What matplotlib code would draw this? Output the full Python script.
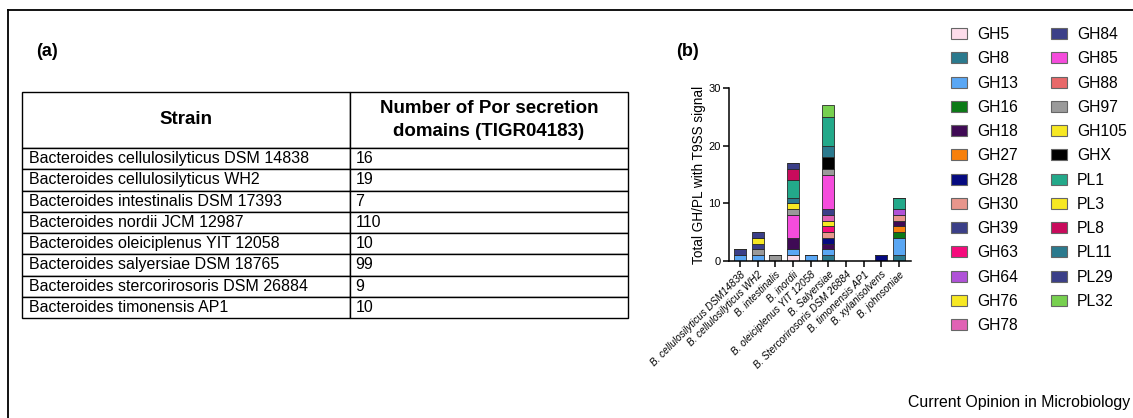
import matplotlib
matplotlib.use("Agg")
import matplotlib.pyplot as plt
from matplotlib.lines import Line2D
from matplotlib.patches import Patch
import numpy as np

plt.rcParams['font.family'] = ['Liberation Sans', 'DejaVu Sans']

# ---------------- data: table (a) ----------------
table_strains = [
    "Bacteroides cellulosilyticus DSM 14838",
    "Bacteroides cellulosilyticus WH2",
    "Bacteroides intestinalis DSM 17393",
    "Bacteroides nordii JCM 12987",
    "Bacteroides oleiciplenus YIT 12058",
    "Bacteroides salyersiae DSM 18765",
    "Bacteroides stercorirosoris DSM 26884",
    "Bacteroides timonensis AP1",
]
table_counts = [16, 19, 7, 110, 10, 99, 9, 10]
table_headers = ["Strain", "Number of Por secretion\ndomains (TIGR04183)"]

# ---------------- data: bar chart (b) ----------------
categories = [
    "B. cellulosilyticus DSM14838", "B. cellulosilyticus WH2", "B. intestinalis",
    "B. inordii", "B. oleiciplenus YIT 12058", "B. Salyersiae",
    "B. Stercorirosoris DSM 26884", "B. timonensis AP1", "B. xylanisolvens",
    "B. johnsoniae",
]
GH5   = [0, 0, 0, 1, 0, 0, 0, 0, 0, 0]
GH8   = [0, 0, 0, 0, 0, 1, 0, 0, 0, 1]
GH13  = [1, 1, 0, 1, 1, 1, 0, 0, 0, 3]
GH16  = [0, 0, 0, 0, 0, 0, 0, 0, 0, 1]
GH18  = [0, 0, 0, 2, 0, 1, 0, 0, 0, 1]
GH27  = [0, 0, 0, 0, 0, 0, 0, 0, 0, 1]
GH28  = [0, 0, 0, 0, 0, 1, 0, 0, 1, 0]
GH30  = [0, 0, 0, 0, 0, 1, 0, 0, 0, 1]
GH39  = [0, 0, 0, 0, 0, 1, 0, 0, 0, 0]
GH63  = [0, 0, 0, 0, 0, 1, 0, 0, 0, 0]
GH64  = [0, 0, 0, 0, 0, 0, 0, 0, 0, 1]
GH76  = [0, 0, 0, 0, 0, 1, 0, 0, 0, 0]
GH78  = [0, 0, 0, 0, 0, 1, 0, 0, 0, 0]
GH84  = [1, 1, 0, 0, 0, 0, 0, 0, 0, 0]
GH85  = [0, 0, 0, 4, 0, 6, 0, 0, 0, 0]
GH88  = [0, 0, 0, 0, 0, 0, 0, 0, 0, 0]
GH97  = [0, 1, 1, 1, 0, 1, 0, 0, 0, 0]
GH105 = [0, 1, 0, 1, 0, 0, 0, 0, 0, 0]
GHX   = [0, 0, 0, 0, 0, 2, 0, 0, 0, 0]
PL1   = [0, 0, 0, 3, 0, 5, 0, 0, 0, 2]
PL3   = [0, 0, 0, 0, 0, 0, 0, 0, 0, 0]
PL8   = [0, 0, 0, 2, 0, 0, 0, 0, 0, 0]
PL11  = [0, 0, 0, 1, 0, 2, 0, 0, 0, 0]
PL29  = [0, 1, 0, 1, 0, 0, 0, 0, 0, 0]
PL32  = [0, 0, 0, 0, 0, 2, 0, 0, 0, 0]

y_ticks = [0, 10, 20, 30]

series = {
    "GH5": GH5, "GH8": GH8, "GH13": GH13, "GH16": GH16, "GH18": GH18,
    "GH27": GH27, "GH28": GH28, "GH30": GH30, "GH39": GH39, "GH63": GH63,
    "GH64": GH64, "GH76": GH76, "GH78": GH78, "GH84": GH84, "GH85": GH85,
    "GH88": GH88, "GH97": GH97, "GH105": GH105, "GHX": GHX, "PL1": PL1,
    "PL3": PL3, "PL8": PL8, "PL11": PL11, "PL29": PL29, "PL32": PL32,
}
colors = {
    "GH5": "#fcdcea", "GH8": "#2b7a8e", "GH13": "#5aa7f4", "GH16": "#0b7a16",
    "GH18": "#3f0a55", "GH27": "#f7800c", "GH28": "#050a80", "GH30": "#e8968c",
    "GH39": "#3b3f88", "GH63": "#f50a7c", "GH64": "#b052d8", "GH76": "#f7e823",
    "GH78": "#e062b4", "GH84": "#3b3f88", "GH85": "#f54cdc", "GH88": "#e8696a",
    "GH97": "#9a9a9a", "GH105": "#f7e823", "GHX": "#000000", "PL1": "#23a98a",
    "PL3": "#f7e823", "PL8": "#c90b5c", "PL11": "#2b7a8e", "PL29": "#3b3f88",
    "PL32": "#77d04f",
}
legend_order = ["GH5", "GH8", "GH13", "GH16", "GH18", "GH27", "GH28", "GH30",
                "GH39", "GH63", "GH64", "GH76", "GH78",
                "GH84", "GH85", "GH88", "GH97", "GH105", "GHX", "PL1", "PL3",
                "PL8", "PL11", "PL29", "PL32"]
stack_order = ["GH5", "GH8", "GH13", "GH16", "GH27", "GH18", "GH28", "GH30",
               "GH63", "GH64", "GH76", "GH78", "GH39", "GH85", "GH88", "GH97",
               "GH84", "GH105", "GHX", "PL11", "PL1", "PL3", "PL8", "PL29", "PL32"]

# ---------------- figure ----------------
W, H = 1133, 418
fig = plt.figure(figsize=(W / 100, H / 100), dpi=100)

def fx(x):
    return x / W

def fy(y):
    return 1 - y / H

# frame
fig.add_artist(Line2D([fx(8), fx(8)], [fy(10), 0], color="black", lw=1.3))
fig.add_artist(Line2D([fx(8), 1], [fy(10), fy(10)], color="black", lw=1.3))

# panel labels
fig.text(fx(36), fy(52), "(a)", fontsize=13, fontweight="bold", va="center", ha="left")
fig.text(fx(676), fy(52), "(b)", fontsize=13, fontweight="bold", va="center", ha="left")

# ---------------- table ----------------
tx0, tx1, ty0, ty1 = 22, 628, 92, 318
ax_t = fig.add_axes([fx(tx0), fy(ty1), (tx1 - tx0) / W, (ty1 - ty0) / H])
ax_t.axis("off")
split = 350
cell_text = [[s, str(c)] for s, c in zip(table_strains, table_counts)]
tbl = ax_t.table(cellText=cell_text, colLabels=table_headers,
                 colWidths=[split - tx0, tx1 - split], cellLoc="left",
                 colLoc="center", bbox=[0, 0, 1, 1])
tbl.auto_set_font_size(False)
tbl.set_fontsize(11.5)
for (r, c), cell in tbl.get_celld().items():
    cell.set_linewidth(1.0)
    cell.set_edgecolor("black")
    if r == 0:
        cell.set_height(56)
        cell.get_text().set_fontweight("bold")
        cell.get_text().set_fontsize(13.5)
        cell.get_text().set_linespacing(1.45)
    else:
        cell.set_height(21.25)
        cell.PAD = 0.022 if c == 0 else 0.02

# ---------------- bar chart ----------------
ax = fig.add_axes([fx(729), fy(261), (911 - 729) / W, (261 - 88) / H])
x = np.arange(len(categories))
bottom = np.zeros(len(categories))
for name in stack_order:
    vals = np.array(series[name], dtype=float)
    ax.bar(x, vals, bottom=bottom, width=0.68, color=colors[name],
           edgecolor="#2a2a2a", linewidth=0.6)
    bottom += vals

ax.set_xlim(-0.62, 9.68)
ax.set_ylim(0, 30)
ax.set_yticks(y_ticks)
ax.set_xticks(x)
ax.set_xticklabels(categories, rotation=45, ha="right", va="top",
                   rotation_mode="anchor", fontsize=7.2, fontstyle="italic")
ax.tick_params(axis="y", labelsize=8, length=4, width=1.1, pad=2)
ax.tick_params(axis="x", length=4, width=1.1, pad=2)
for sp in ["top", "right"]:
    ax.spines[sp].set_visible(False)
for sp in ["left", "bottom"]:
    ax.spines[sp].set_linewidth(1.1)
ax.set_ylabel("Total GH/PL with T9SS signal", fontsize=9.8, labelpad=2)

# ---------------- legend ----------------
handles = [Patch(facecolor=colors[n], edgecolor="#666666", linewidth=0.8, label=n)
           for n in legend_order]
fig.legend(handles=handles, loc="upper left", bbox_to_anchor=(fx(951), fy(27)),
           ncol=2, frameon=False, fontsize=11.3, handlelength=1.02,
           handleheight=0.7, handletextpad=0.64, columnspacing=2.1,
           labelspacing=0.59, borderpad=0, borderaxespad=0)

fig.text(fx(1130), fy(402), "Current Opinion in Microbiology", fontsize=11.4,
         ha="right", va="center")

fig.savefig("out.png", dpi=100)
